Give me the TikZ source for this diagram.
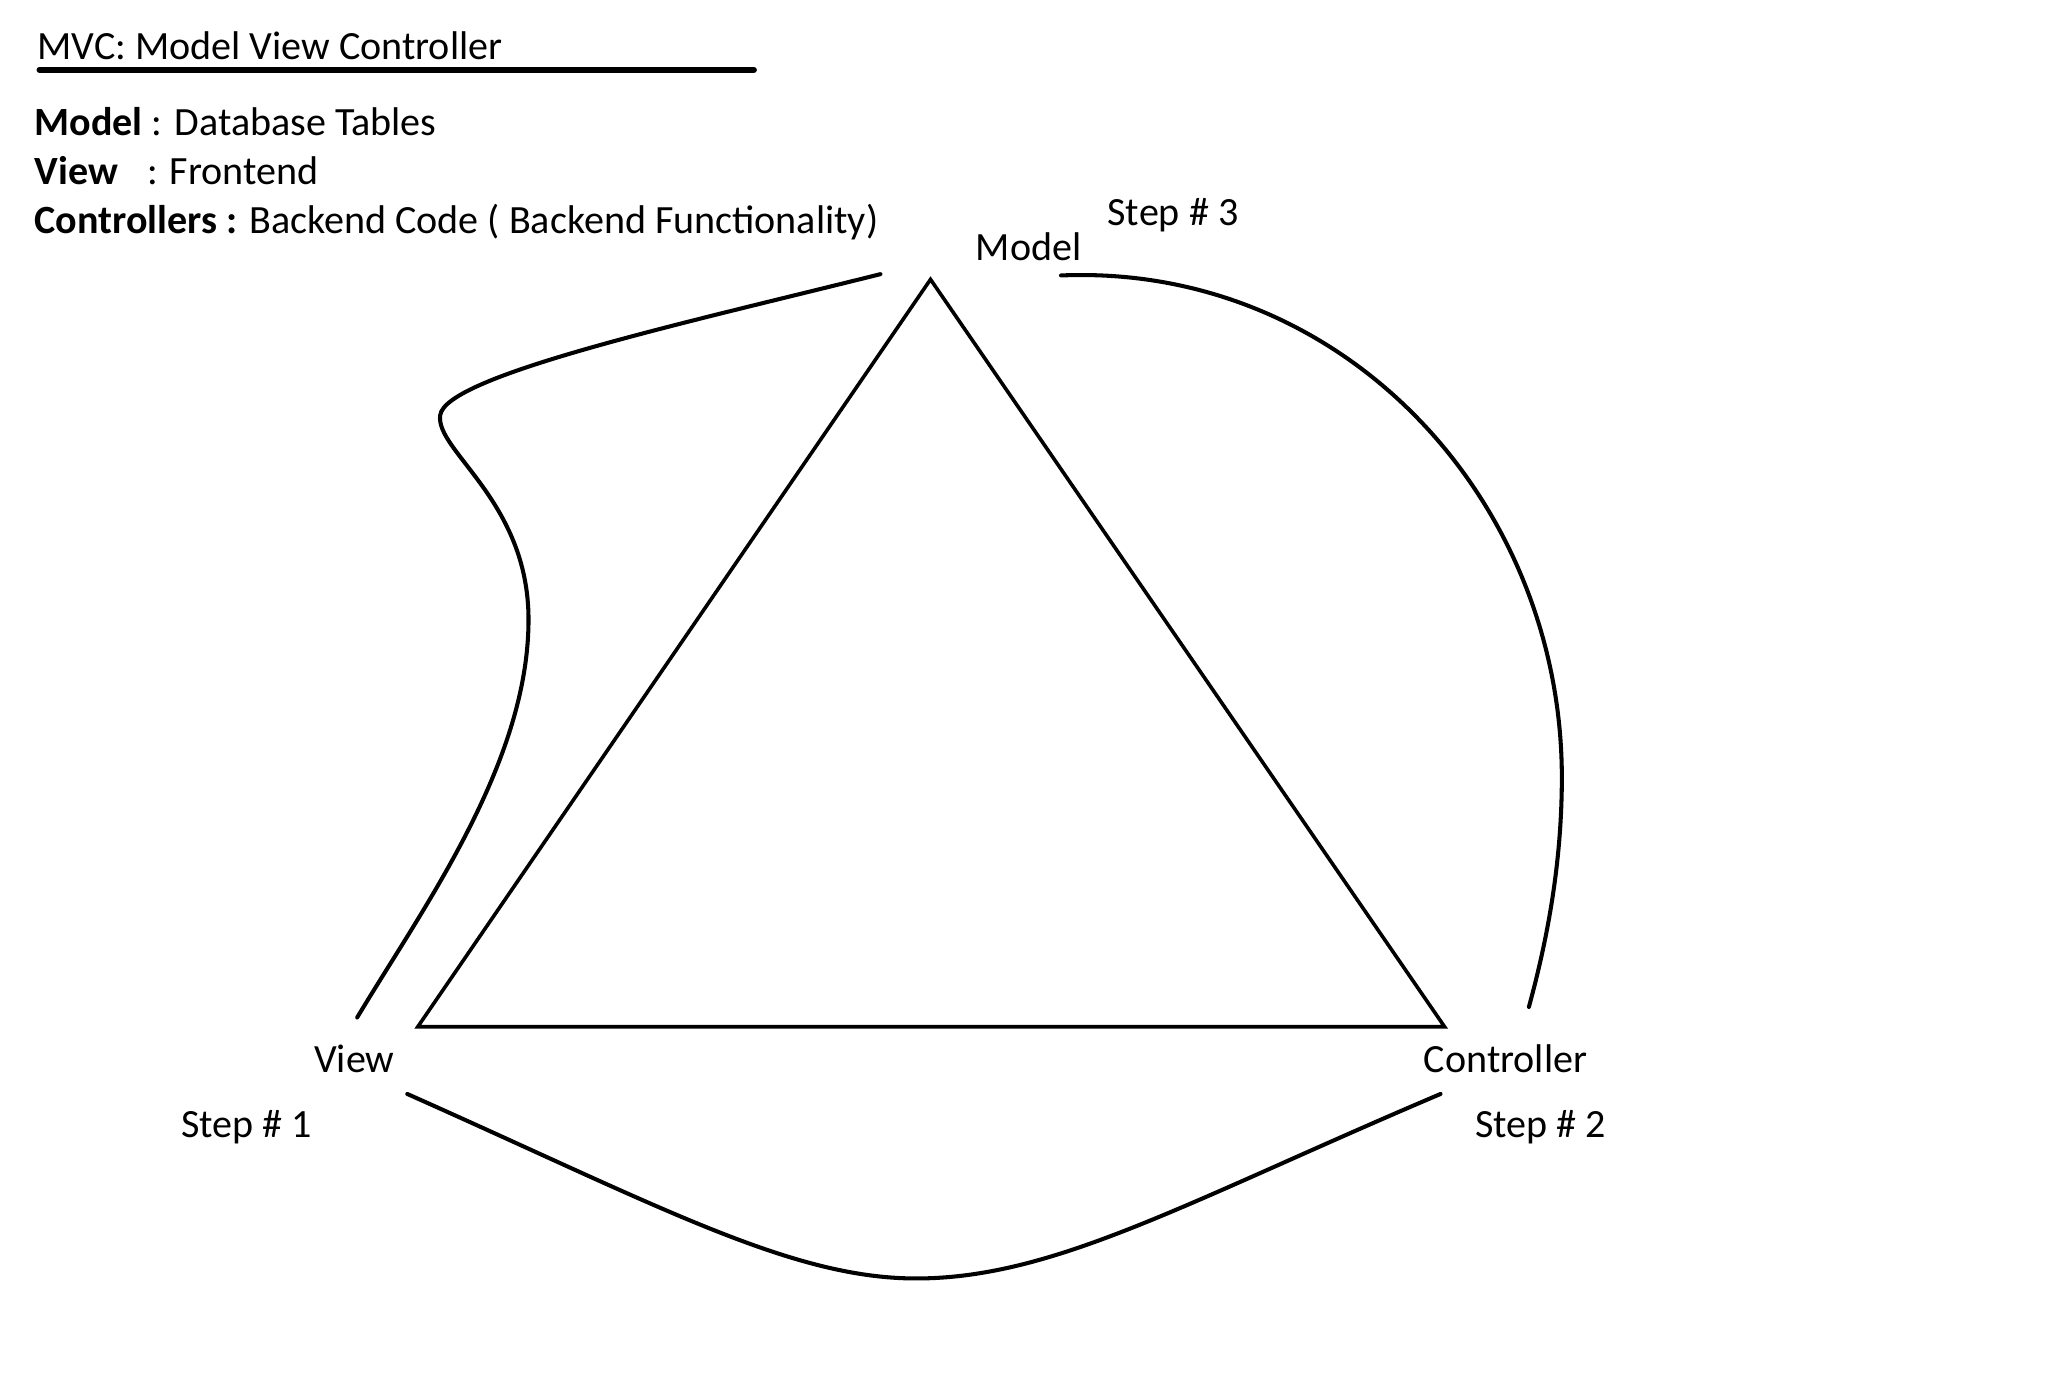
\documentclass[tikz,border=0pt]{standalone}
\usepackage{fontspec}
\setmainfont{Carlito}
\begin{document}
\begin{tikzpicture}[x=0.02cm,y=-0.02cm,
  lbl/.style={anchor=base west,inner sep=0pt,font=\fontsize{17.3}{20.7}\selectfont},
  edge/.style={line width=1.55pt,line cap=round,line join=miter},
  flow/.style={line width=1.75pt,line cap=round}]
\useasboundingbox (0,0) rectangle (1566,1047);
% title and legend
\node[lbl] (title) at (28,45) {MVC: Model View Controller};
\coordinate (ul1) at (30,53);
\coordinate (ul2) at (572,53);
\draw[line width=2.6pt,line cap=round] (ul1) -- (ul2);
\node[lbl] (lm) at (26,103) {\textbf{Model} : Database Tables};
\node[lbl] (lv) at (26,140) {\textbf{View}\hspace{0.5em} : Frontend};
\node[lbl] (lc) at (26,177) {\textbf{Controllers :} Backend Code ( Backend Functionality)};
% vertex labels
\node[lbl] (model) at (740,198) {Model};
\node[lbl] (s3) at (840,171) {Step \# 3};
\node[lbl] (view) at (238,814) {View};
\node[lbl] (s1) at (137,863) {Step \# 1};
\node[lbl] (ctrl) at (1080,814) {Controller};
\node[lbl] (s2) at (1119,863) {Step \# 2};
% triangle
\coordinate (M) at (706,212);
\coordinate (V) at (317,779);
\coordinate (C) at (1096,779);
\draw[edge] (M) -- (V) -- (C) -- cycle;
% flow curves
\coordinate (a1) at (668,208);
\coordinate (a2) at (271,772);
\draw[flow] (a1) .. controls (520,245) and (338,285) .. (334,315)
  .. controls (330,342) and (401,380) .. (401,470)
  .. controls (401,580) and (320,690) .. (a2);
\coordinate (b1) at (309,830);
\coordinate (b2) at (1093,830);
\draw[flow] (b1) .. controls (500,915) and (600,970) .. (695,970)
  .. controls (800,970) and (900,912) .. (b2);
\coordinate (c1) at (805,209);
\coordinate (c2) at (1160,764);
\draw[flow] (c1) .. controls (1020,200) and (1185,380) .. (1185,590)
  .. controls (1185,660) and (1172,720) .. (c2);
\end{tikzpicture}
\end{document}
